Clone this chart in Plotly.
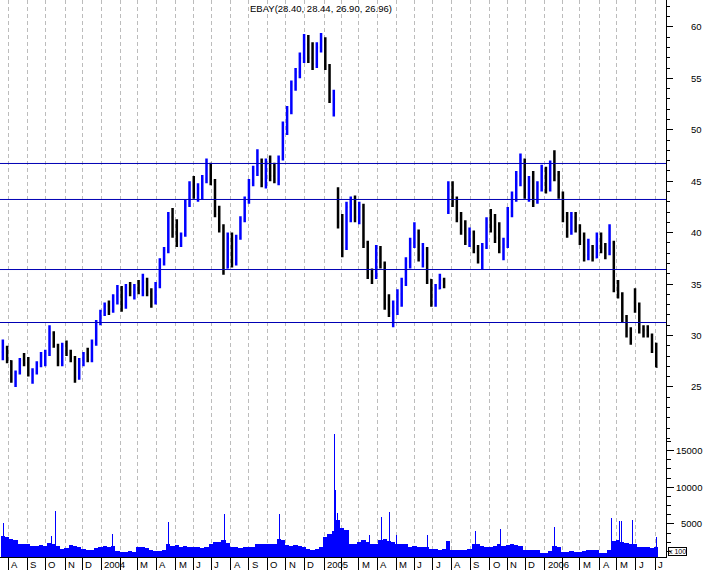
import pandas as pd
import plotly.graph_objects as go

# ---------------- data (weekly bars) ----------------
first_week = "2003-07-21"
opens = [28.4,28.8,27.5,25.8,26.4,27.6,27.3,26.3,26.5,27.3,28.0,28.3,30.2,29.0,27.4,29.0,28.3,27.8,25.9,27.5,
         28.2,27.6,29.3,31.3,32.3,32.9,32.4,33.8,34.4,33.0,34.6,34.2,34.7,34.4,35.2,34.2,33.3,34.9,37.2,38.3,
         41.5,40.0,39.2,39.8,42.8,44.6,43.8,44.3,45.2,46.6,45.0,41.8,40.5,36.6,39.5,37.0,39.5,41.3,43.2,44.8,
         46.0,47.0,45.2,46.6,45.5,45.2,47.2,50.5,51.8,54.3,55.6,57.0,58.3,57.0,56.4,58.0,58.6,56.2,52.0,44.2,
         41.0,38.5,42.5,42.8,41.5,42.5,39.0,36.0,35.8,38.4,37.0,33.0,32.2,32.8,34.0,35.2,37.2,39.0,40.0,37.8,
         38.4,35.4,33.4,34.6,35.4,42.0,44.2,43.0,41.4,40.2,39.2,40.0,38.5,37.2,38.6,41.0,40.6,39.5,38.6,38.8,
         42.0,43.6,45.5,46.4,43.8,45.0,43.0,44.5,46.0,44.3,46.6,45.6,43.7,41.5,40.2,41.5,40.5,39.2,37.8,38.6,
         37.6,39.6,38.5,38.2,39.0,34.8,34.0,31.8,30.4,33.2,32.6,30.6,30.5,30.0,29.2]
highs = [29.6,29.0,27.6,26.6,27.8,28.3,27.9,26.8,27.5,28.4,28.6,31.0,30.4,29.2,29.3,29.5,28.6,28.0,27.8,28.4,
         28.8,29.6,31.5,32.5,33.2,33.4,34.0,34.9,34.8,35.0,35.2,35.0,35.4,36.0,35.6,34.6,35.2,37.5,38.6,42.0,
         42.4,41.3,40.0,43.2,45.0,45.5,44.8,45.6,47.2,46.8,45.2,42.6,40.8,40.0,40.0,39.8,41.6,43.5,45.2,46.5,
         48.1,47.2,47.2,47.5,46.8,47.5,50.8,52.3,54.8,56.0,57.5,59.3,59.2,58.5,58.5,59.4,59.0,56.4,53.9,44.4,
         41.8,43.0,43.5,43.6,43.0,42.8,39.2,36.5,38.8,38.7,37.2,34.0,33.4,34.5,35.6,37.6,39.5,41.0,40.3,39.0,
         38.6,35.5,35.0,36.0,35.6,45.0,45.0,43.5,42.0,41.2,40.5,40.2,38.8,39.0,41.5,42.3,41.8,41.0,39.5,42.5,
         44.0,46.0,47.7,47.2,45.5,46.0,45.0,46.6,46.4,47.0,48.0,46.0,44.0,42.0,42.0,42.0,40.8,40.0,39.4,38.8,
         40.0,40.0,39.0,40.8,39.2,35.4,34.2,32.0,30.8,34.6,33.2,31.0,31.0,30.2,29.3]
lows = [27.6,27.3,25.4,25.0,26.2,27.0,26.0,25.3,26.2,26.9,27.0,28.0,28.8,27.0,27.0,28.0,27.4,25.4,25.7,27.0,
        27.4,27.4,29.0,31.0,31.9,32.0,32.2,33.0,32.3,32.6,33.8,33.5,34.0,33.8,33.8,32.7,33.0,34.6,36.8,38.0,
        39.5,38.6,38.6,39.6,42.5,43.3,43.0,43.2,44.8,44.6,41.5,40.0,35.9,36.5,36.6,36.8,39.3,41.0,42.8,44.5,
        45.5,44.4,44.3,45.0,44.8,44.6,47.0,49.5,51.5,53.8,55.0,56.5,56.5,55.8,56.0,57.5,55.8,52.6,51.3,40.4,
        37.6,38.3,41.0,41.0,40.8,38.5,35.5,35.0,35.5,36.5,32.5,31.8,30.8,32.0,32.8,34.8,36.5,38.5,37.2,36.6,
        35.0,32.8,32.8,34.5,34.6,41.8,42.5,41.0,39.8,38.8,38.6,38.0,37.0,36.4,38.4,40.0,39.0,38.0,37.3,38.5,
        41.5,43.0,44.5,43.3,43.0,42.5,42.8,44.0,43.8,44.0,45.0,43.3,41.0,39.5,39.8,40.0,38.8,37.2,37.3,37.2,
        37.5,38.0,37.4,37.8,34.2,33.6,31.2,29.8,29.1,32.2,30.2,29.8,29.8,28.3,26.9]
closes = [28.8,27.5,25.8,26.4,27.6,27.3,26.3,26.5,27.3,28.0,28.3,30.2,29.0,27.4,29.0,28.3,27.8,25.9,27.5,28.2,
          27.6,29.3,31.3,32.3,32.9,32.4,33.8,34.4,33.0,34.6,34.2,34.7,34.4,35.2,34.2,33.3,34.9,37.2,38.3,41.5,
          40.0,39.2,39.8,42.8,44.6,43.8,44.3,45.2,46.6,45.0,41.8,40.5,36.6,39.5,37.0,39.5,41.3,43.2,44.8,46.0,
          47.0,45.2,46.6,45.5,45.2,47.2,50.5,51.8,54.3,55.6,57.0,58.3,57.0,56.4,58.0,58.6,56.2,53.0,53.0,41.0,
          38.5,42.5,42.8,41.5,42.5,39.0,36.0,35.8,38.4,37.0,33.0,32.2,32.8,34.0,35.2,37.2,39.0,40.0,37.8,38.4,
          35.4,33.4,34.6,35.4,35.2,44.2,43.0,41.4,40.2,39.2,40.0,38.5,37.2,38.6,41.0,40.6,39.5,38.6,38.8,42.0,
          43.6,45.5,46.4,43.8,45.0,43.0,44.5,46.0,44.3,46.6,45.6,43.7,41.5,40.2,41.5,40.5,39.2,37.8,38.6,37.6,
          39.6,38.5,38.0,39.0,34.8,34.0,31.8,30.4,29.6,32.6,30.6,30.5,30.0,29.4,26.96]
volumes = [3300,3200,3000,2800,2300,2300,2200,2000,2000,2100,2000,2400,2300,2000,1600,1700,2100,2000,1800,1600,
           1500,1500,1700,1900,2000,1900,2000,1300,1200,1200,1300,1200,1800,1900,1700,1400,1300,1300,1400,2200,
           2000,2100,1900,2000,1800,1900,1800,1700,1800,2300,2500,2600,2800,2400,1800,1800,1700,1800,1900,1800,
           2300,2200,2300,2300,2200,3000,2800,2100,2000,2100,2000,1900,1600,1500,1600,1800,3200,3600,4000,5500,
           4500,4200,2300,2200,2500,2800,2600,2200,2200,2800,2900,2700,2500,2300,2300,2200,1900,2000,1900,1900,
           1900,1600,1600,1500,1600,2700,1500,1500,1400,1500,1600,2200,2200,2000,1900,1900,2000,2200,2000,2100,
           2200,2100,2000,1500,1500,1400,1500,1100,1100,1300,2000,1800,1200,1200,1300,1200,1200,1300,1400,1400,
           1400,1100,1100,1500,2700,2800,2600,2400,2300,2300,1900,1900,1800,1700,1800]
spike_dates = ["2003-07-24","2003-10-10","2003-10-17","2004-01-20","2004-04-21","2004-07-22","2004-10-21",
               "2005-01-20","2005-01-21","2005-01-24","2005-03-11","2005-03-18","2005-04-08","2005-04-21",
               "2005-05-02","2005-06-22","2005-07-21","2005-09-09","2005-10-20","2006-01-18","2006-04-21",
               "2006-05-05","2006-05-08","2006-05-26","2006-07-05"]
spike_volumes = [5090,3400,6770,3630,5300,6350,6350,17270,9600,6500,4300,3500,6000,6630,3500,3500,11540,
                 4000,4300,4620,5850,5440,5440,5580,3260]
level_lines = [46.72, 43.22, 36.41, 31.26]
last_day = [28.40, 28.44, 26.90, 26.96]
month_labels = ["A","S","O","N","D",
                "2004","","M","A","M","J","J","A","S","O","N","D",
                "2005","","M","A","M","J","J","A","S","O","N","D",
                "2006","","M","A","M","J","J"]
price_ticks = [25, 30, 35, 40, 45, 50, 55, 60]
volume_ticks = [5000, 10000, 15000]

# ---------------- build ----------------
week_x = pd.date_range(first_week, periods=len(closes), freq="7D") + pd.Timedelta(days=2)
month_x = pd.date_range("2003-08-01", periods=len(month_labels), freq="BMS")
DAY = 86400000
BLUE = "#0000FF"
FONT = "Liberation Sans"

fig = go.Figure()
fig.add_trace(go.Bar(x=week_x, y=volumes, width=[7 * DAY] * len(volumes), marker=dict(color=BLUE, line=dict(width=0)),
                     yaxis="y2", showlegend=False, hoverinfo="skip"))
fig.add_trace(go.Bar(x=pd.to_datetime(spike_dates) + pd.Timedelta(hours=12), y=spike_volumes,
                     width=[1.6 * DAY] * len(spike_volumes), marker=dict(color=BLUE, line=dict(width=0)),
                     yaxis="y2", showlegend=False, hoverinfo="skip"))
fig.add_trace(go.Ohlc(x=week_x, open=opens, high=highs, low=lows, close=closes, tickwidth=0.3,
                      increasing=dict(line=dict(color=BLUE, width=2.5)),
                      decreasing=dict(line=dict(color="#000000", width=2.5)),
                      yaxis="y", showlegend=False, hoverinfo="skip"))

for lv in level_lines:
    fig.add_shape(type="line", xref="paper", x0=0, x1=1, yref="y", y0=lv, y1=lv,
                  line=dict(color="#0000B4", width=1), layer="above")

W, H = 707, 570
PW, PH = 666, 557

annotations = []
for d, lab in zip(month_x, month_labels):
    if lab:
        annotations.append(dict(x=d, xref="x", y=(PH - 564.5) / PH, yref="paper", text=lab, showarrow=False,
                                xanchor="left", yanchor="middle", xshift=1, font=dict(family=FONT, size=9.5, color="black")))
for v in price_ticks:
    annotations.append(dict(x=704 / PW, xref="paper", y=v, yref="y", text=str(v), showarrow=False,
                            xanchor="right", yanchor="middle", font=dict(family=FONT, size=9.5, color="black")))
for v in volume_ticks:
    annotations.append(dict(x=704 / PW, xref="paper", y=v, yref="y2", text=str(v), showarrow=False,
                            xanchor="right", yanchor="middle", font=dict(family=FONT, size=9.5, color="black")))
annotations.append(dict(x=320.5 / PW, xref="paper", y=(PH - 9) / PH, yref="paper",
                        text="EBAY(%.2f, %.2f, %.2f, %.2f)" % tuple(last_day), showarrow=False,
                        xanchor="center", yanchor="middle", font=dict(family=FONT, size=9.5, color="black")))
annotations.append(dict(x=668 / PW, xref="paper", y=(PH - 551.5) / PH, yref="paper", text="x 100",
                        showarrow=False, xanchor="left", yanchor="middle", bordercolor="black", borderwidth=1,
                        borderpad=0, font=dict(family=FONT, size=7, color="black")))

fig.update_layout(
    width=W, height=H, margin=dict(l=0, r=W - PW, t=0, b=H - PH),
    paper_bgcolor="white", plot_bgcolor="white", barmode="overlay", bargap=0,
    showlegend=False, annotations=annotations, hovermode=False,
    xaxis=dict(type="date", range=["2003-07-18 07:26", "2006-07-21 02:24"], rangeslider=dict(visible=False),
               tickvals=month_x, showticklabels=False, ticks="outside", ticklen=13, tickcolor="black",
               showline=True, linecolor="black", linewidth=1, showgrid=True, gridcolor="#bcbcbc",
               griddash="4px,3px", gridwidth=1, zeroline=False, fixedrange=True),
    yaxis=dict(range=[8.46, 62.615], side="right", showline=True, linecolor="black", linewidth=1,
               tickvals=price_ticks, showticklabels=False, ticks="outside", ticklen=6, tickcolor="black",
               minor=dict(tickvals=[v for v in range(20, 63) if v not in price_ticks], ticks="outside",
                          ticklen=3, tickcolor="black", showgrid=False),
               showgrid=False, zeroline=False, fixedrange=True),
    yaxis2=dict(range=[491, 76470], overlaying="y", side="right", anchor="x", showline=False,
                tickvals=volume_ticks, showticklabels=False, ticks="outside", ticklen=7, tickcolor="black",
                minor=dict(tickvals=[v for v in range(1250, 16500, 1250) if v not in volume_ticks],
                           ticks="outside", ticklen=4, tickcolor="black", showgrid=False),
                showgrid=False, zeroline=False, fixedrange=True),
)

fig.write_html("out.html", config={"displayModeBar": False, "staticPlot": True},
               post_script="document.body.style.margin='0';document.body.style.overflow='hidden';")
